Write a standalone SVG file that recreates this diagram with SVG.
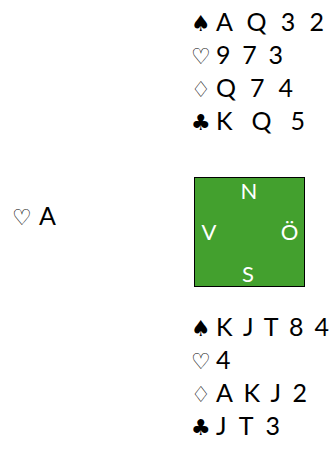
<svg xmlns="http://www.w3.org/2000/svg" width="331" height="461" viewBox="0 0 331 461">
<style>
text{font-family:"Lato","Noto Sans","DejaVu Sans",sans-serif;font-size:25px;fill:#000}
.s{font-family:"DejaVu Sans",sans-serif;font-size:22px}
.w{fill:#fff;font-size:22px}
</style>
<rect width="331" height="461" fill="#fff"/>
<g id="north">
<text class="s" x="191" y="31">♠</text><text x="216" y="31" textLength="108" lengthAdjust="spacing">A Q 3 2</text>
<text class="s" x="191" y="64">♡</text><text x="216" y="64" textLength="67" lengthAdjust="spacing">9 7 3</text>
<text class="s" x="191" y="97">♢</text><text x="216" y="97" textLength="77" lengthAdjust="spacing">Q 7 4</text>
<text class="s" x="191" y="130">♣</text><text x="216" y="130" textLength="89" lengthAdjust="spacing">K Q 5</text>
</g>
<g id="west">
<text class="s" x="12" y="225">♡</text><text x="39" y="225">A</text>
</g>
<g id="compass">
<rect x="194.5" y="177.5" width="110" height="109" fill="#43a02e" stroke="#000" stroke-width="1"/>
<text class="w" x="249" y="199" text-anchor="middle">N</text>
<text class="w" x="209" y="240" text-anchor="middle">V</text>
<text class="w" x="289.5" y="240" text-anchor="middle">Ö</text>
<text class="w" x="248" y="282" text-anchor="middle">S</text>
</g>
<g id="south">
<text class="s" x="191" y="336">♠</text><text x="216" y="336" textLength="113" lengthAdjust="spacing">K J T 8 4</text>
<text class="s" x="191" y="369">♡</text><text x="216" y="369">4</text>
<text class="s" x="191" y="402">♢</text><text x="216" y="402" textLength="91" lengthAdjust="spacing">A K J 2</text>
<text class="s" x="191" y="435">♣</text><text x="216" y="435" textLength="64" lengthAdjust="spacing">J T 3</text>
</g>
</svg>
